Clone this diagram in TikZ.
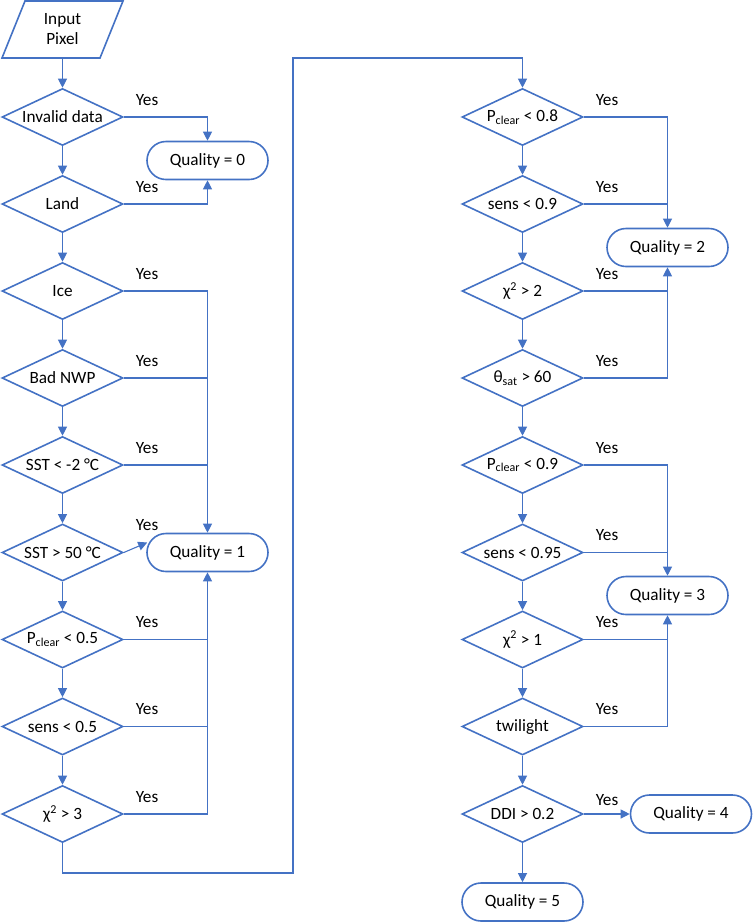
\documentclass[tikz,border=0pt]{standalone}
\usepackage{fontspec}
\setmainfont{Carlito}
\usetikzlibrary{shapes.geometric,arrows.meta,calc}
\definecolor{ob}{HTML}{4472C4}
\begin{document}
\begin{tikzpicture}[x=1pt,y=-1pt, font=\fontsize{17.2}{20}\selectfont,
 dec/.style={diamond, draw=ob, line width=1.6pt, inner sep=0pt, aspect=2.12, minimum width=121pt, minimum height=57pt},
 term/.style={rectangle, rounded corners=19pt, draw=ob, line width=1.6pt, minimum width=121pt, minimum height=38pt},
 conn/.style={draw=ob, line width=1.1pt},
 arr/.style={conn, -{Triangle[length=9pt,width=9pt]}},
 yes/.style={inner sep=0pt}]
\useasboundingbox (0,0) rectangle (753,922);
% input
\draw[ob, line width=1.6pt] (2,58) -- (25,1) -- (123,1) -- (100,58) -- cycle;
\node[inner sep=0pt, minimum width=98pt, minimum height=57pt, align=center] (inp) at (62.5,29.5) {Input\\Pixel};
% left column
\node[dec] (inv) at (62.5,117) {Invalid data};
\node[dec] (land) at (62.5,204) {Land};
\node[dec] (ice) at (62.5,291) {Ice};
\node[dec] (nwp) at (62.5,378) {Bad NWP};
\node[dec] (sstl) at (62.5,465) {SST < -2 °C};
\node[dec] (ssth) at (62.5,552.5) {SST > 50 °C};
\node[dec] (pa) at (62.5,639.5) {P\textsubscript{clear} < 0.5};
\node[dec] (sa) at (62.5,726.5) {sens < 0.5};
\node[dec] (ca) at (62.5,814) {χ\textsuperscript{2} > 3};
\node[term] (q0) at (207.5,160.5) {Quality = 0};
\node[term] (q1) at (207.5,552.5) {Quality = 1};
% right column
\node[dec] (pb) at (522.5,117) {P\textsubscript{clear} < 0.8};
\node[dec] (sb) at (522.5,204) {sens < 0.9};
\node[dec] (cb) at (522.5,291) {χ\textsuperscript{2} > 2};
\node[dec] (th) at (522.5,378) {θ\textsubscript{sat} > 60};
\node[dec] (pc) at (522.5,465) {P\textsubscript{clear} < 0.9};
\node[dec] (sc) at (522.5,552.5) {sens < 0.95};
\node[dec] (cc) at (522.5,639.5) {χ\textsuperscript{2} > 1};
\node[dec] (tw) at (522.5,726.5) {twilight};
\node[dec] (ddi) at (522.5,814) {DDI > 0.2};
\node[term] (q2) at (667.5,247.5) {Quality = 2};
\node[term] (q3) at (667.5,595.5) {Quality = 3};
\node[term] (q4) at (691,814) {Quality = 4};
\node[term] (q5) at (522.5,902) {Quality = 5};
% main flow arrows
\draw[arr] (inp.south) -- (inv.north);
\draw[arr] (inv.south) -- (land.north);
\draw[arr] (land.south) -- (ice.north);
\draw[arr] (ice.south) -- (nwp.north);
\draw[arr] (nwp.south) -- (sstl.north);
\draw[arr] (sstl.south) -- (ssth.north);
\draw[arr] (ssth.south) -- (pa.north);
\draw[arr] (pa.south) -- (sa.north);
\draw[arr] (sa.south) -- (ca.north);
\coordinate (b1) at (62.5,873);
\coordinate (b2) at (293,873);
\coordinate (b3) at (293,58);
\coordinate (b4) at (522.5,58);
\draw[conn] (ca.south) -- (b1) -- (b2) -- (b3) -- (b4);
\draw[arr] (b4) -- (pb.north);
\draw[arr] (pb.south) -- (sb.north);
\draw[arr] (sb.south) -- (cb.north);
\draw[arr] (cb.south) -- (th.north);
\draw[arr] (th.south) -- (pc.north);
\draw[arr] (pc.south) -- (sc.north);
\draw[arr] (sc.south) -- (cc.north);
\draw[arr] (cc.south) -- (tw.north);
\draw[arr] (tw.south) -- (ddi.north);
\draw[arr] (ddi.south) -- (q5.north);
\draw[arr] (ddi.east) -- (q4.west);
% yes branches left
\draw[arr] (inv.east) -| (q0.north);
\draw[arr] (land.east) -| (q0.south);
\draw[arr] (ice.east) -| (q1.north);
\draw[conn] (nwp.east) -- (nwp.east -| q1.north);
\draw[conn] (sstl.east) -- (sstl.east -| q1.north);
\coordinate (q1in) at ($(q1.west)+(1,-10)$);
\draw[arr] (ssth.east) -- (q1in);
\draw[conn] (pa.east) -- (pa.east -| q1.south);
\draw[conn] (sa.east) -- (sa.east -| q1.south);
\draw[arr] (ca.east) -| (q1.south);
% yes branches right
\draw[arr] (pb.east) -| (q2.north);
\draw[conn] (sb.east) -- (sb.east -| q2.north);
\draw[conn] (cb.east) -- (cb.east -| q2.south);
\draw[arr] (th.east) -| (q2.south);
\draw[arr] (pc.east) -| (q3.north);
\draw[conn] (sc.east) -- (sc.east -| q3.north);
\draw[conn] (cc.east) -- (cc.east -| q3.south);
\draw[arr] (tw.east) -| (q3.south);
% yes labels
\foreach \n/\yy in {ya/117,yb/204,yc/291,yd/378,ye/465,yg/639.5,yh/726.5,yi/814}
  \node[yes] (\n) at (147,\yy-17) {Yes};
\node[yes] (yf) at (147,525.5) {Yes};
\foreach \n/\yy in {ra/117,rb/204,rc/291,rd/378,re/465,rf/552.5,rg/639.5,rh/726.5}
  \node[yes] (\n) at (607,\yy-17) {Yes};
\node[yes] (ri) at (607,800) {Yes};
\end{tikzpicture}
\end{document}
